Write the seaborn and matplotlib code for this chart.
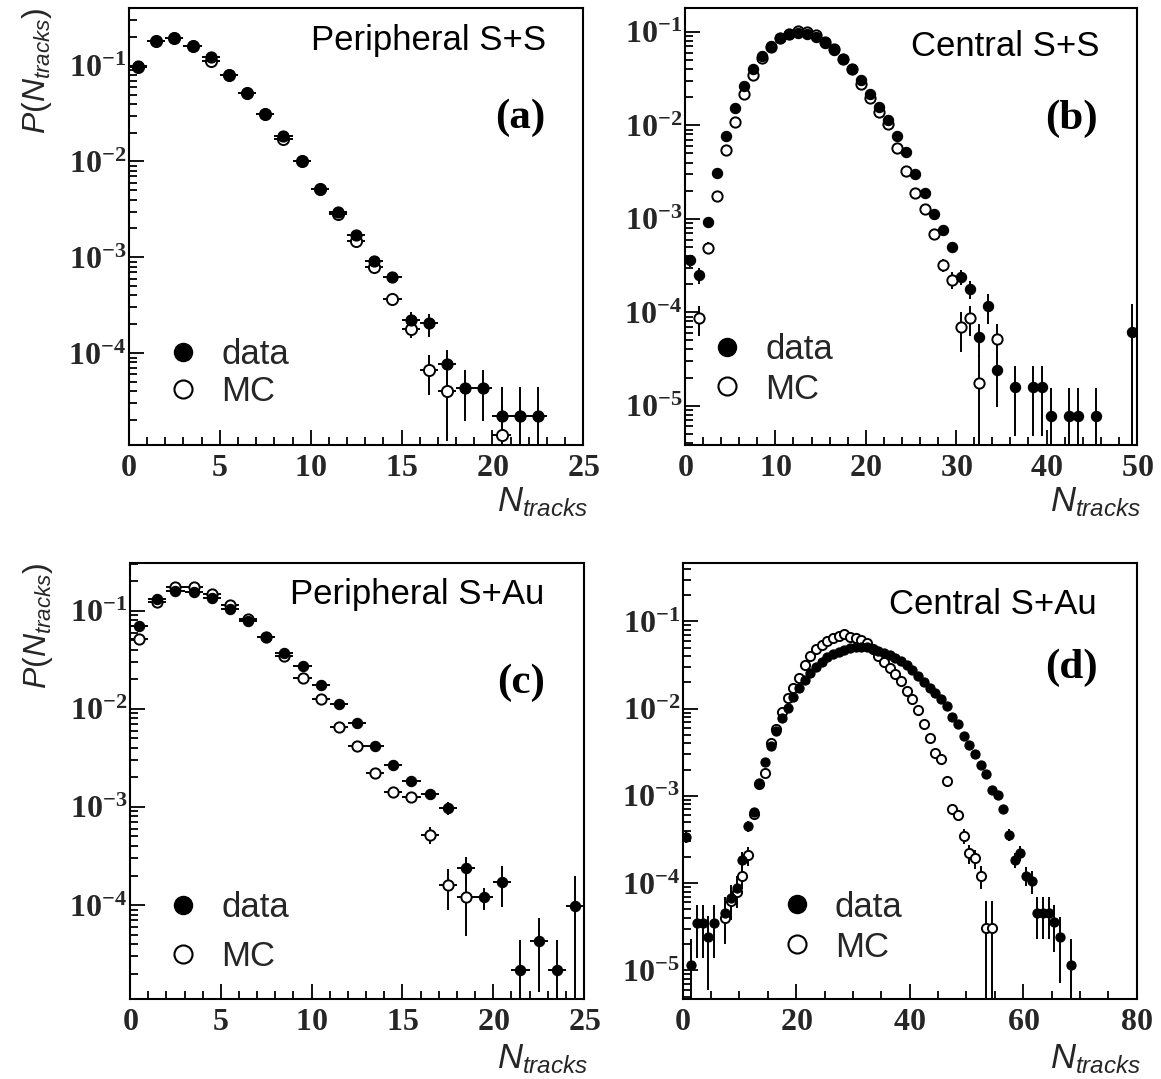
import numpy as np
import pandas as pd
import matplotlib
matplotlib.use("Agg")
import matplotlib.pyplot as plt
import seaborn as sns
from matplotlib.ticker import MultipleLocator, LogLocator, FuncFormatter, NullFormatter
from matplotlib.lines import Line2D

sns.set_theme(style="white")
plt.rcParams['font.family'] = ['Liberation Sans', 'DejaVu Sans']
plt.rcParams['mathtext.fontset'] = 'custom'
plt.rcParams['mathtext.rm'] = 'Liberation Sans'
plt.rcParams['mathtext.it'] = 'Liberation Sans:italic'
plt.rcParams['mathtext.bf'] = 'Liberation Serif:bold'
plt.rcParams['axes.edgecolor'] = 'black'
plt.rcParams['axes.linewidth'] = 1.5

# P(N_tracks) per bin, bins are N = 0,1,2,... (points at bin centres)
# (a) peripheral S+S
a_data = [0.100, 0.181, 0.196, 0.161, 0.122, 0.080, 0.052, 0.031, 0.0184, 0.0102,
          0.0052, 0.0030, 0.0017, 0.00092, 0.00062, 0.00022, 0.000204, 7.7e-5,
          4.3e-5, 4.3e-5, 2.2e-5, 2.2e-5, 2.2e-5]
a_mc = [0.098, 0.181, 0.196, 0.160, 0.113, 0.080, 0.052, 0.031, 0.0171, 0.0102,
        0.0052, 0.0028, 0.00148, 0.00079, 0.00037, 0.00018, 6.6e-5, 4.0e-5,
        None, None, 1.4e-5]
a_data_err = {12.5: 0.06, 13.5: 0.08, 14.5: 0.1, 15.5: 0.22, 16.5: 0.27, 17.5: 0.4,
              18.5: 0.55, 19.5: 0.55, 20.5: 1.0, 21.5: 1.0, 22.5: 1.0}
a_mc_err = {13.5: 0.08, 14.5: 0.12, 15.5: 0.2, 16.5: 0.45, 17.5: 0.7, 20.5: 1.0}

# (b) central S+S
b_data = [3.6e-4, 2.5e-4, 9.2e-4, 3.1e-3, 7.7e-3, 0.0155, 0.0264, 0.0398, 0.0553, 0.070,
          0.085, 0.094, 0.0976, 0.096, 0.088, 0.076, 0.0636, 0.0506, 0.0398, 0.0303,
          0.0218, 0.0157, 0.0113, 0.0076, 0.0052, 0.0030, 0.0019, 0.00113, 7.5e-4, 5.0e-4,
          2.4e-4, 1.78e-4, 5.4e-5, 1.16e-4, 2.4e-5, None, 1.57e-5, None, 1.57e-5, 1.57e-5,
          7.8e-6, None, 7.8e-6, 7.8e-6, None, 7.8e-6, None, None, None, 6.1e-5]
b_mc = [None, 8.6e-5, 4.9e-4, 1.75e-3, 5.4e-3, 0.0109, 0.0215, 0.0349, 0.0526, 0.069,
        0.086, 0.096, 0.1016, 0.100, 0.092, 0.078, 0.065, 0.0506, 0.0398, 0.0279,
        0.0198, 0.0139, 0.0103, 0.00577, 0.00324, 0.0019, 0.00126, 6.9e-4, 3.2e-4, 2.24e-4,
        6.9e-5, 8.6e-5, 1.75e-5, None, 5.2e-5]
b_data_err = {0.5: 0.15, 1.5: 0.2, 27.5: 0.08, 28.5: 0.1, 29.5: 0.12, 30.5: 0.18, 31.5: 0.22,
              32.5: 0.38, 33.5: 0.35, 34.5: 0.6, 36.5: 0.7, 38.5: 0.7, 39.5: 0.7,
              40.5: 1.0, 42.5: 1.0, 43.5: 1.0, 45.5: 1.0, 49.5: 1.0}
b_mc_err = {1.5: 0.35, 2.5: 0.15, 28.5: 0.15, 29.5: 0.2, 30.5: 0.45, 31.5: 0.35,
            32.5: 1.0, 34.5: 0.45}

# (c) peripheral S+Au
c_data = [0.070, 0.131, 0.160, 0.154, 0.134, 0.104, 0.079, 0.0546, 0.0373, 0.0275,
          0.0176, 0.0113, 0.0072, 0.0042, 0.00266, 0.00183, 0.00134, 9.7e-4, 2.4e-4,
          1.2e-4, 1.73e-4, 2.2e-5, 4.3e-5, 2.2e-5, 9.8e-5]
c_mc = [0.0515, 0.122, 0.173, 0.173, 0.147, 0.114, 0.082, 0.0546, 0.035, 0.0207,
        0.0125, 0.0066, 0.0042, 0.00224, 0.00142, 0.00127, 5.2e-4, 1.6e-4, 1.2e-4]
c_data_err = {13.5: 0.05, 14.5: 0.06, 15.5: 0.08, 16.5: 0.1, 17.5: 0.15, 18.5: 0.3,
              19.5: 0.25, 20.5: 0.45, 21.5: 1.0, 22.5: 0.7, 23.5: 1.0, 24.5: 1.0}
c_mc_err = {13.5: 0.06, 14.5: 0.1, 15.5: 0.12, 16.5: 0.2, 17.5: 0.45, 18.5: 0.6}

# (d) central S+Au
d_data = [3.4e-4, 1.16e-5, 3.5e-5, 3.5e-5, 2.4e-5, 3.5e-5, None, 4.6e-5, 6.8e-5, 8.9e-5,
          1.84e-4, 4.5e-4, 6.5e-4, 1.41e-3, 2.43e-3, 3.7e-3, 5.5e-3, 7.8e-3, 0.0102, 0.0136,
          0.0171, 0.0214, 0.0257, 0.030, 0.0343, 0.0386, 0.0423, 0.045, 0.0471, 0.0493,
          0.0507, 0.051, 0.0507, 0.048, 0.046, 0.0432, 0.041, 0.0376, 0.0346, 0.0313,
          0.0276, 0.0239, 0.0201, 0.0171, 0.0152, 0.013, 0.0107, 0.0081, 0.0066, 0.0049,
          0.0038, 0.00305, 0.00226, 0.00177, 0.00118, 0.00103, 7.1e-4, 3.6e-4, 1.84e-4, 2.24e-4,
          1.22e-4, 1.07e-4, 4.6e-5, 4.6e-5, 4.6e-5, 3.6e-5, 2.4e-5, None, 1.16e-5]
d_mc = [None, None, None, None, None, None, None, 4.0e-5, 6.3e-5, 8.0e-5,
        1.22e-4, 2.1e-4, 6.2e-4, 1.35e-3, 1.85e-3, 4.0e-3, 5.8e-3, 0.0091, 0.0132, 0.0171,
        0.0224, 0.0316, 0.0403, 0.0484, 0.054, 0.059, 0.065, 0.068, 0.071, 0.0665,
        0.0636, 0.0618, 0.056, 0.048, 0.0403, 0.0337, 0.0294, 0.025, 0.0205, 0.016,
        0.013, 0.0095, 0.0066, 0.0046, 0.0031, 0.00266, 0.00148, 7.1e-4, 6.0e-4, 3.5e-4,
        2.2e-4, 1.92e-4, 1.22e-4, 3.1e-5, 3.1e-5]
d_data_err = {0.5: 0.15, 1.5: 1.0, 2.5: 0.6, 3.5: 0.6, 4.5: 0.75, 5.5: 0.6, 7.5: 0.5,
              8.5: 0.4, 9.5: 0.35, 10.5: 0.25, 11.5: 0.15, 12.5: 0.12, 56.5: 0.1,
              57.5: 0.15, 58.5: 0.2, 59.5: 0.2, 60.5: 0.25, 61.5: 0.3, 62.5: 0.5,
              63.5: 0.5, 64.5: 0.5, 65.5: 0.55, 66.5: 0.7, 68.5: 1.0}
d_mc_err = {7.5: 0.5, 8.5: 0.4, 9.5: 0.35, 10.5: 0.3, 11.5: 0.25, 46.5: 0.1, 47.5: 0.15,
            48.5: 0.15, 49.5: 0.2, 50.5: 0.25, 51.5: 0.25, 52.5: 0.3, 53.5: 1.0, 54.5: 1.0}

W, H = 1161, 1079

panels = [
    dict(data=a_data, mc=a_mc, derr=a_data_err, merr=a_mc_err,
         rect=[0.111, 0.5876, 0.3915, 0.405], ylim=(1.1e-5, 0.40), xlim=(0, 25),
         xmaj=5, xmin=1, title="Peripheral S+S", tpos=(0.917, 0.925), tag="(a)",
         tagpos=(0.917, 0.749), leg=(0.12, 0.1645), legsp=0.12, ms=8.0,
         ylabel=True, xlab_y=-0.092),
    dict(data=b_data, mc=b_mc, derr=b_data_err, merr=b_mc_err,
         rect=[0.590, 0.5876, 0.3893, 0.405], ylim=(3.8e-6, 0.18), xlim=(0, 50),
         xmaj=10, xmin=2, title="Central S+S", tpos=(0.918, 0.913), tag="(b)",
         tagpos=(0.914, 0.747), leg=(0.093, 0.1735), legsp=0.2, ms=7.4,
         ylabel=False, xlab_y=-0.092),
    dict(data=c_data, mc=c_mc, derr=c_data_err, merr=c_mc_err,
         rect=[0.112, 0.0741, 0.391, 0.4045], ylim=(1.1e-5, 0.31), xlim=(0, 25),
         xmaj=5, xmin=1, title="Peripheral S+Au", tpos=(0.913, 0.927), tag="(c)",
         tagpos=(0.914, 0.725), leg=(0.117, 0.1535), legsp=0.45, ms=7.4,
         ylabel=True, xlab_y=-0.1),
    dict(data=d_data, mc=d_mc, derr=d_data_err, merr=d_mc_err,
         rect=[0.588, 0.0741, 0.391, 0.4045], ylim=(4.7e-6, 0.47), xlim=(0, 80),
         xmaj=20, xmin=5, title="Central S+Au", tpos=(0.912, 0.904), tag="(d)",
         tagpos=(0.914, 0.759), leg=(0.251, 0.165), legsp=0.2, ms=6.6,
         ylabel=False, xlab_y=-0.1),
]


def series(vals, errs):
    y = np.array(vals, dtype=float)
    x = np.arange(len(y)) + 0.5
    rel = np.array([errs.get(v, 0.0) for v in x])
    return pd.DataFrame({"N": x, "P": y, "err": y * rel}).dropna()


def log_label(v, pos):
    return r'$\mathbf{10^{%d}}$' % int(round(np.log10(v)))


fig = plt.figure(figsize=(W / 100, H / 100), dpi=100)

for p in panels:
    ax = fig.add_axes(p["rect"])
    ax.set_yscale("log")
    ax.set_xlim(*p["xlim"])
    ax.set_ylim(*p["ylim"])

    dfd = series(p["data"], p["derr"])
    dfm = series(p["mc"], p["merr"])

    for df in (dfm, dfd):
        ax.errorbar(df["N"], df["P"], xerr=0.5, yerr=df["err"], fmt="none",
                    ecolor="black", elinewidth=1.4, capsize=0, zorder=2)
    s = p["ms"] ** 2
    sns.scatterplot(data=dfm, x="N", y="P", ax=ax, marker="o", s=s, color="white",
                    edgecolor="black", linewidth=1.4, legend=False, zorder=3)
    sns.scatterplot(data=dfd, x="N", y="P", ax=ax, marker="o", s=s, color="black",
                    edgecolor="black", linewidth=0.8, legend=False, zorder=4)

    ax.xaxis.set_major_locator(MultipleLocator(p["xmaj"]))
    ax.xaxis.set_minor_locator(MultipleLocator(p["xmin"]))
    ax.xaxis.set_major_formatter(FuncFormatter(lambda v, pos: r'$\mathbf{%d}$' % round(v)))
    ax.yaxis.set_major_locator(LogLocator(base=10, numticks=12))
    ax.yaxis.set_minor_locator(LogLocator(base=10, subs=np.arange(2, 10), numticks=12))
    ax.yaxis.set_major_formatter(FuncFormatter(log_label))
    ax.yaxis.set_minor_formatter(NullFormatter())
    ax.tick_params(which="both", direction="in", top=False, right=False,
                   bottom=True, left=True, color="black", width=1.3)
    ax.tick_params(which="major", length=11)
    ax.tick_params(which="minor", length=5.5)
    ax.tick_params(axis="x", labelsize=23, pad=6)
    ax.tick_params(axis="y", labelsize=23, pad=2)

    ax.set_xlabel(r'$\mathit{N_{tracks}}$', fontsize=25, loc="right")
    ax.xaxis.set_label_coords(1.01, p["xlab_y"])
    if p["ylabel"]:
        ax.set_ylabel(r'$\mathit{P(N_{tracks})}$', fontsize=23, loc="top")
        ax.yaxis.set_label_coords(-0.165, 1.0)
    else:
        ax.set_ylabel("")

    ax.text(*p["tpos"], p["title"], transform=ax.transAxes, ha="right", va="center",
            fontsize=25, color="black")
    ax.text(*p["tagpos"], p["tag"], transform=ax.transAxes, ha="right", va="center",
            fontsize=31, fontweight="bold", family="Liberation Serif", color="black")

    handles = [
        Line2D([], [], ls="none", marker="o", ms=13, mfc="black", mec="black"),
        Line2D([], [], ls="none", marker="o", ms=13, mfc="white", mec="black", mew=1.5),
    ]
    ax_w = p["rect"][2] * W
    fs_px = 25 * 100 / 72
    lx = p["leg"][0] - 0.5 * fs_px / ax_w
    ax.legend(handles, ["data", "MC"], loc="center left", bbox_to_anchor=(lx, p["leg"][1]),
              frameon=False, fontsize=25, handlelength=1.0, handletextpad=0.6,
              labelspacing=p["legsp"], borderpad=0, borderaxespad=0)

fig.savefig("out.png", dpi=100)
